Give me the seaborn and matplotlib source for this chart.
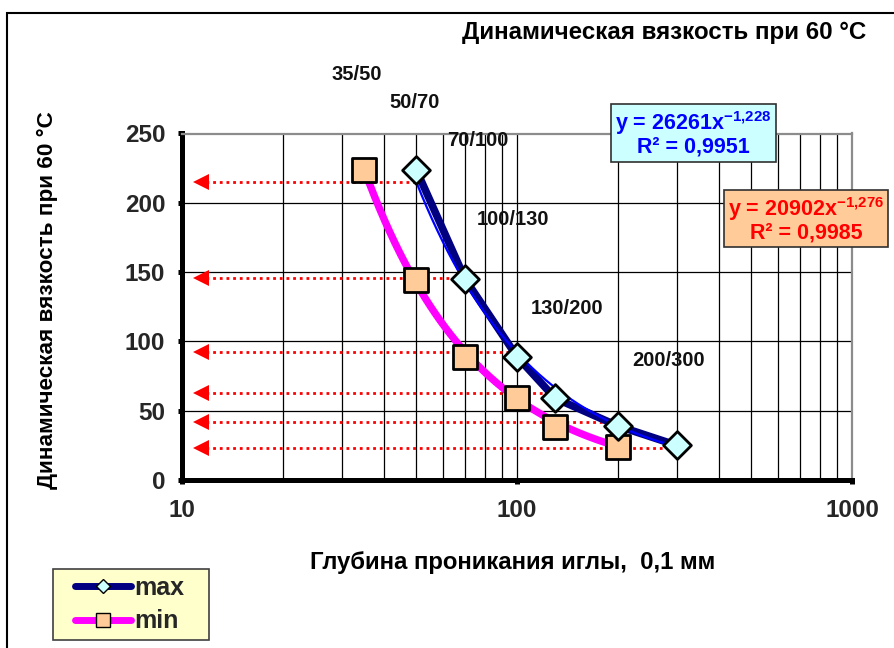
import numpy as np
import pandas as pd
import matplotlib
matplotlib.use("Agg")
import matplotlib.pyplot as plt
import seaborn as sns
from matplotlib.lines import Line2D
from matplotlib.patches import Rectangle
from matplotlib.ticker import LogLocator, FixedLocator, NullFormatter

# Penetration depth (0.1 mm) vs dynamic viscosity at 60 °C
pen_max = [50, 70, 100, 130, 200, 300]
visc_max = [224, 145, 89, 59, 39, 25]
pen_min = [35, 50, 70, 100, 130, 200]
visc_min = [224, 144, 89, 59, 38, 24]

# Power trendlines y = a * x^b and their R²
fit_max = (26261, -1.228, 0.9951)
fit_min = (20902, -1.276, 0.9985)

grades = ["35/50", "50/70", "70/100", "100/130", "130/200", "200/300"]

# Levels
arrow_levels = [215, 146, 92, 63, 42, 23]
arrow_from = pen_max

x_ticks = [10, 100, 1000]
y_ticks = [0, 50, 100, 150, 200, 250]

title = "Динамическая вязкость при 60 °C"
ylabel = "Динамическая вязкость при 60 °C"
xlabel = "Глубина проникания иглы,  0,1 мм"

sns.set_theme(style="white")
FONT = "Liberation Sans"
plt.rcParams["font.family"] = [FONT, "DejaVu Sans"]
plt.rcParams["font.weight"] = "bold"
plt.rcParams["mathtext.fontset"] = "custom"
plt.rcParams["mathtext.rm"] = f"{FONT}:bold"
plt.rcParams["mathtext.bf"] = f"{FONT}:bold"
plt.rcParams["mathtext.it"] = f"{FONT}:bold"

W, H = 894, 648
fig = plt.figure(figsize=(W / 100, H / 100), dpi=100)
fig.patch.set_facecolor("white")


def fx(px):
    return px / W


def fy(py):
    return 1 - py / H


ax = fig.add_axes([fx(182), fy(480), 670 / W, 346.5 / H])
ax.set_facecolor("white")
ax.set_xscale("log")
ax.set_xlim(10, 1000)
ax.set_ylim(0, 250)

# grid
ax.xaxis.set_major_locator(FixedLocator(x_ticks))
ax.xaxis.set_minor_locator(LogLocator(base=10, subs=np.arange(2, 10)))
ax.xaxis.set_minor_formatter(NullFormatter())
ax.set_xticks(x_ticks, labels=[str(t) for t in x_ticks])
ax.set_yticks(y_ticks, labels=[str(t) for t in y_ticks])
ax.grid(True, which="both", axis="x", color="black", lw=0.9, zorder=0)
ax.grid(True, which="major", axis="y", color="black", lw=0.9, zorder=0)
ax.set_axisbelow(True)

for side in ("left", "bottom"):
    ax.spines[side].set_color("black")
    ax.spines[side].set_linewidth(3.6)
for side in ("top", "right"):
    ax.spines[side].set_color("#8c8c8c")
    ax.spines[side].set_linewidth(1.6)

ax.tick_params(which="major", axis="both", direction="out", length=3, width=3.6,
               color="black", labelsize=17.5, pad=9, left=True, bottom=True)
ax.tick_params(which="minor", length=0)
for lab in ax.get_xticklabels() + ax.get_yticklabels():
    lab.set_fontweight("bold")
ax.tick_params(axis="x", pad=11)

# arrows toward the viscosity axis
tip_x = 11.4
line_start_x = 11.8
for lvl, x0 in zip(arrow_levels, arrow_from):
    ax.plot([line_start_x, x0], [lvl, lvl], color="#FF0000", lw=2.0,
            ls=(0, (1, 1.4)), zorder=2)
    ax.plot([tip_x], [lvl], marker="<", ms=12, color="#FF0000", mew=0, zorder=2)

df_max = pd.DataFrame({"pen": pen_max, "visc": visc_max})
df_min = pd.DataFrame({"pen": pen_min, "visc": visc_min})

# series line for max
sns.lineplot(data=df_max, x="pen", y="visc", color="#000080", lw=5.5,
             ax=ax, zorder=4, legend=False)

# power trendlines
xs_max = np.geomspace(min(pen_max), max(pen_max), 200)
xs_min = np.geomspace(min(pen_min), max(pen_min), 200)
trend_max = pd.DataFrame({"pen": xs_max, "visc": fit_max[0] * xs_max ** fit_max[1]})
trend_min = pd.DataFrame({"pen": xs_min, "visc": fit_min[0] * xs_min ** fit_min[1]})
sns.lineplot(data=trend_max, x="pen", y="visc", color="#0000FF", lw=1.6,
             ax=ax, zorder=5, legend=False)
sns.lineplot(data=trend_min, x="pen", y="visc", color="#FF00FF", lw=5.3,
             ax=ax, zorder=4, legend=False)

# markers
sns.scatterplot(data=df_min, x="pen", y="visc", marker="s", s=320,
                facecolor="#FFCC99", edgecolor="black", linewidth=2.0,
                ax=ax, zorder=6, legend=False)
sns.scatterplot(data=df_max, x="pen", y="visc", marker="D", s=200,
                facecolor="#CCFFFF", edgecolor="black", linewidth=2.0,
                ax=ax, zorder=7, legend=False)

ax.set_xlabel("")
ax.set_ylabel("")

# grade labels
grade_pos = [(357, 75), (415, 103), (478, 140), (513, 219), (567, 308), (669, 360)]
for g, (px, py) in zip(grades, grade_pos):
    fig.text(fx(px), fy(py), g, ha="center", va="center", fontsize=14.5,
             fontweight="bold", color="#111111", zorder=8)

# titles
fig.text(fx(664), fy(33), title, ha="center", va="center", fontsize=17.4,
         fontweight="bold", color="black")
fig.text(fx(47), fy(300), ylabel, ha="center", va="center", rotation=90,
         fontsize=16.2, fontweight="bold", color="black")
fig.text(fx(513), fy(563), xlabel, ha="center", va="center", fontsize=17.2,
         fontweight="bold", color="black")


def fmt(v):
    return str(v).replace(".", ",")


def eq_box(fit, box, fill, color):
    x0, y0, x1, y1 = box
    fig.patches.append(Rectangle((fx(x0), fy(y1)), fx(x1) - fx(x0), fy(y0) - fy(y1),
                                 transform=fig.transFigure, facecolor=fill,
                                 edgecolor="#303030", lw=1.2, zorder=9))
    cx = (x0 + x1) / 2
    a, b, r2 = fit
    b_txt = fmt(b).replace(",", "{,}")
    fig.text(fx(cx), fy(y0 + 19), f"y = {a}x$^{{{b_txt}}}$", ha="center", va="center",
             fontsize=15.5, fontweight="bold", color=color, zorder=10)
    fig.text(fx(cx), fy(y0 + 43), f"R² = {fmt(r2)}", ha="center", va="center",
             fontsize=15.5, fontweight="bold", color=color, zorder=10)


eq_box(fit_max, (611, 104, 776, 162), "#CCFFFF", "#0000FF")
eq_box(fit_min, (724, 190, 888, 247), "#FFCC99", "#FF0000")

# legend: pale yellow panel with the two series keys inside
fig.patches.append(Rectangle((fx(53), fy(640)), fx(209) - fx(53), fy(569) - fy(640),
                             transform=fig.transFigure, facecolor="#FFFFCC",
                             edgecolor="#404040", lw=1.2, zorder=4))
handles = [
    Line2D([], [], color="#000080", lw=5, marker="D", ms=7.5, mfc="#CCFFFF",
           mec="black", mew=1.0, solid_capstyle="round"),
    Line2D([], [], color="#FF00FF", lw=5, marker="s", ms=10.5, mfc="#FFCC99",
           mec="black", mew=1.0, solid_capstyle="round"),
]
leg = fig.legend(handles, ["max", "min"], loc="upper left",
                 bbox_to_anchor=(fx(75), fy(576)), frameon=False,
                 prop={"weight": "bold", "size": 18}, handlelength=2.25,
                 handletextpad=0.12, borderpad=0, labelspacing=0.38,
                 borderaxespad=0)
leg.set_zorder(5)

# chart area border
fig.patches.append(Rectangle((fx(7), -0.1), 1.2, fy(13) + 0.1, transform=fig.transFigure,
                             facecolor="none", edgecolor="black", lw=1.5, zorder=0))

fig.savefig("out.png", dpi=100)
